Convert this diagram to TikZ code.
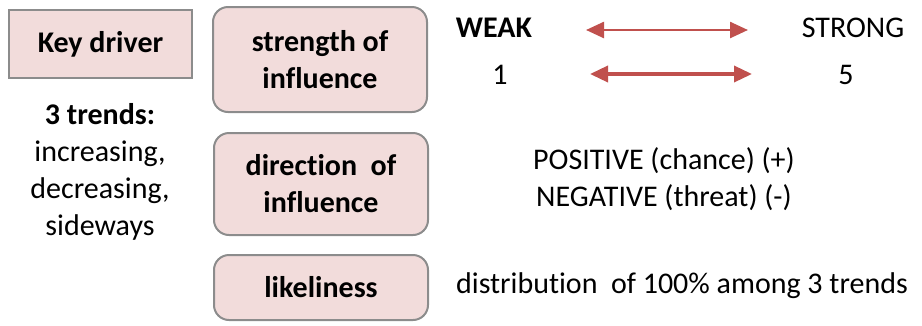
\documentclass[tikz,border=0pt]{standalone}
\usepackage{fontspec}
\setmainfont{Carlito}[Ligatures=NoCommon]
\usetikzlibrary{arrows.meta}
\definecolor{boxfill}{HTML}{F2DCDB}
\definecolor{boxline}{HTML}{8C8C8C}
\definecolor{arrowred}{HTML}{C0504D}
\newcommand{\bigfont}{\fontsize{30}{37}\selectfont}
\tikzset{
	keybox/.style={draw=boxline, line width=2pt, fill=boxfill, minimum width=183pt, minimum height=68pt, font=\bigfont\bfseries},
	factorbox/.style={draw=boxline, line width=2pt, fill=boxfill, rounded corners=15pt, minimum width=214pt, font=\bigfont\bfseries, align=center},
	plain/.style={align=center},
	scalearrow/.style={draw=arrowred, {Triangle[length=18pt,width=16pt]}-{Triangle[length=18pt,width=16pt]}}
}

\begin{document}
\begin{tikzpicture}[x=1pt, y=-1pt, font=\bigfont]
			%%%%% START %%%%%
			\useasboundingbox (0, 0) rectangle (922, 325);
			
			\node[keybox] (key) at (100.5, 44) {Key driver};
			\node[plain] (trends) at (100, 172) {\textbf{3 trends:}\\increasing,\\decreasing,\\sideways};
			
			\node[factorbox, minimum height=105pt] (strength) at (320, 59.5) {strength of\\influence};
			\node[factorbox, minimum height=102pt] (direction) at (321, 184) {direction~~of\\influence};
			\node[factorbox, minimum height=65pt] (likely) at (321, 287.5) {likeliness};
			
			\node[font=\bigfont\bfseries] (weak) at (494, 28) {WEAK};
			\node (strong) at (853, 28) {STRONG};
			\node (one) at (500, 75) {1};
			\node (five) at (846, 75) {5};
			
			\coordinate (a1) at (586, 30);
			\coordinate (b1) at (748, 30);
			\coordinate (a2) at (590, 74);
			\coordinate (b2) at (752, 74);
			\draw[scalearrow, line width=2.5pt] (a1) -- (b1);
			\draw[scalearrow, line width=3.5pt] (a2) -- (b2);
			
			\node[plain] (sign) at (664, 179) {POSITIVE (chance) (+)\\NEGATIVE (threat) (-)};
			\node (distrib) at (682, 286) {distribution~~of 100\% among 3 trends};
			%%%%% END %%%%%
\end{tikzpicture}
\end{document}
